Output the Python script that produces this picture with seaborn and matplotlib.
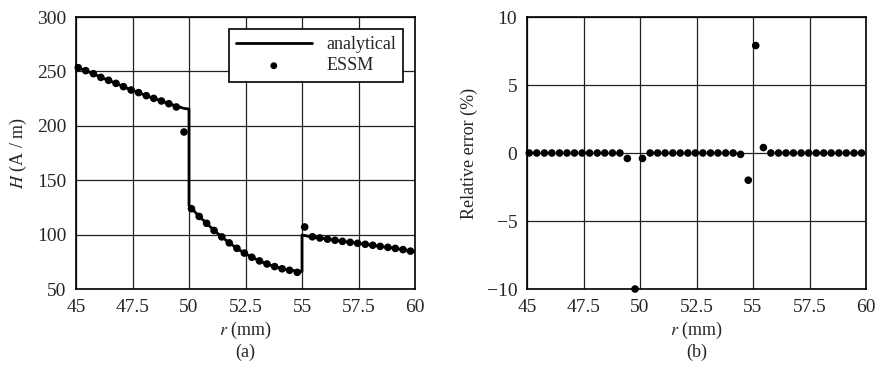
import numpy as np
import pandas as pd
import matplotlib
matplotlib.use("Agg")
import matplotlib.pyplot as plt
import seaborn as sns

# Sample radii (mm) of the ESSM solution
r_essm = [45.10, 45.43, 45.77, 46.10, 46.44, 46.77, 47.10, 47.44, 47.77, 48.11,
          48.44, 48.78, 49.11, 49.44, 49.78, 50.11, 50.45, 50.78, 51.11, 51.45,
          51.78, 52.12, 52.45, 52.78, 53.12, 53.45, 53.79, 54.12, 54.45, 54.79,
          55.12, 55.46, 55.79, 56.13, 56.46, 56.79, 57.13, 57.46, 57.80, 58.13,
          58.46, 58.80, 59.13, 59.47, 59.80]

# Magnetic field strength from ESSM (A/m)
H_essm = [253.4, 250.7, 247.9, 244.5, 241.8, 239.0, 236.0, 232.9, 230.5, 227.7,
          225.2, 222.8, 220.3, 217.3, 194.3, 123.8, 116.7, 110.4, 103.8, 97.9,
          92.4, 87.4, 83.0, 79.2, 75.8, 73.0, 70.6, 68.6, 67.2, 65.3,
          107.0, 98.0, 96.9, 95.8, 94.8, 93.8, 92.9, 92.0, 91.1, 90.2,
          89.2, 88.3, 87.3, 86.2, 84.8]

# Analytical field at the same radii (A/m)
H_analytical = [253.4, 250.7, 247.9, 244.5, 241.8, 239.0, 236.0, 232.9, 230.5, 227.7,
                225.2, 222.8, 220.3, 218.2, 216.0, 124.3, 116.7, 110.4, 103.8, 97.9,
                92.4, 87.4, 83.0, 79.2, 75.8, 73.0, 70.6, 68.6, 67.3, 66.6,
                99.2, 97.6, 96.9, 95.8, 94.8, 93.8, 92.9, 92.0, 91.1, 90.2,
                89.2, 88.3, 87.3, 86.2, 84.8]

# Analytical field at the interval ends 45, 50-, 50+, 55-, 55+, 60 (mm)
r_edges = [45.0, 50.0, 50.0, 55.0, 55.0, 60.0]
H_edges = [254.3, 215.4, 126.5, 66.0, 99.6, 84.4]

# Relative error of ESSM (%)
rel_error = [0, 0, 0, 0, 0, 0, 0, 0, 0, 0,
             0, 0, 0, -0.4, -10.0, -0.4, 0, 0, 0, 0,
             0, 0, 0, 0, 0, 0, 0, 0, -0.1, -2.0,
             7.9, 0.4, 0, 0, 0, 0, 0, 0, 0, 0,
             0, 0, 0, 0, 0]

x_ticks = [45, 47.5, 50, 52.5, 55, 57.5, 60]
x_ticklabels = ["45", "47.5", "50", "52.5", "55", "57.5", "60"]

# Build the analytical curve piecewise, with the jumps at 50 and 55 mm
r_a = np.array(r_essm)
H_a = np.array(H_analytical)
seg1 = r_a < 50
seg2 = (r_a > 50) & (r_a < 55)
seg3 = r_a > 55
r_line = np.concatenate([[r_edges[0]], r_a[seg1], [r_edges[1], r_edges[2]], r_a[seg2],
                         [r_edges[3], r_edges[4]], r_a[seg3], [r_edges[5]]])
H_line = np.concatenate([[H_edges[0]], H_a[seg1], [H_edges[1], H_edges[2]], H_a[seg2],
                         [H_edges[3], H_edges[4]], H_a[seg3], [H_edges[5]]])
line_df = pd.DataFrame({"r": r_line, "H": H_line})
essm_df = pd.DataFrame({"r": r_essm, "H": H_essm, "err": rel_error})

sns.set_style("white")
plt.rcParams["font.family"] = ["Liberation Serif", "DejaVu Serif"]
plt.rcParams["mathtext.fontset"] = "stix"
plt.rcParams["font.size"] = 13

fig = plt.figure(figsize=(8.75, 3.76), dpi=100)
ax1 = fig.add_axes([76 / 875, 87 / 376, 339 / 875, 272 / 376])
ax2 = fig.add_axes([527 / 875, 87 / 376, 339 / 875, 272 / 376])

# (a) field distribution
sns.lineplot(data=line_df, x="r", y="H", ax=ax1, color="black", lw=2,
             sort=False, estimator=None, label="analytical", zorder=3)
sns.scatterplot(data=essm_df, x="r", y="H", ax=ax1, color="black", s=30,
                edgecolor="none", label="ESSM", zorder=4, clip_on=False)
ax1.set_xlim(45, 60)
ax1.set_ylim(50, 300)
ax1.set_yticks([50, 100, 150, 200, 250, 300])
ax1.set_ylabel("$H$ (A / m)", labelpad=6)
leg = ax1.legend(loc="upper right", frameon=True, fancybox=False,
                 edgecolor="black", framealpha=1, handlelength=4.2,
                 borderaxespad=0.65, markerscale=0.9, fontsize=13,
                 borderpad=0.4, labelspacing=0.25)
leg.get_frame().set_linewidth(1.2)

# (b) relative error
sns.scatterplot(data=essm_df, x="r", y="err", ax=ax2, color="black", s=30,
                edgecolor="none", zorder=4, clip_on=False, legend=False)
ax2.set_xlim(45, 60)
ax2.set_ylim(-10, 10)
ax2.set_yticks([-10, -5, 0, 5, 10])
ax2.set_yticklabels(["\u221210", "\u22125", "0", "5", "10"])
ax2.set_ylabel("Relative error (%)", labelpad=6)

for ax, tag in ((ax1, "(a)"), (ax2, "(b)")):
    ax.set_xticks(x_ticks)
    ax.set_xticklabels(x_ticklabels)
    ax.set_xlabel("$r$ (mm)", labelpad=3)
    ax.grid(True, color="#222222", lw=0.9)
    ax.set_axisbelow(True)
    ax.tick_params(length=0, pad=7, labelsize=14)
    for sp in ax.spines.values():
        sp.set_visible(True)
        sp.set_color("black")
        sp.set_linewidth(1.2)
    pos = ax.get_position()
    fig.text((pos.x0 + pos.x1) / 2, 1 - 352 / 376, tag, ha="center", va="center",
             fontsize=13)

fig.savefig("out.png", dpi=100)
